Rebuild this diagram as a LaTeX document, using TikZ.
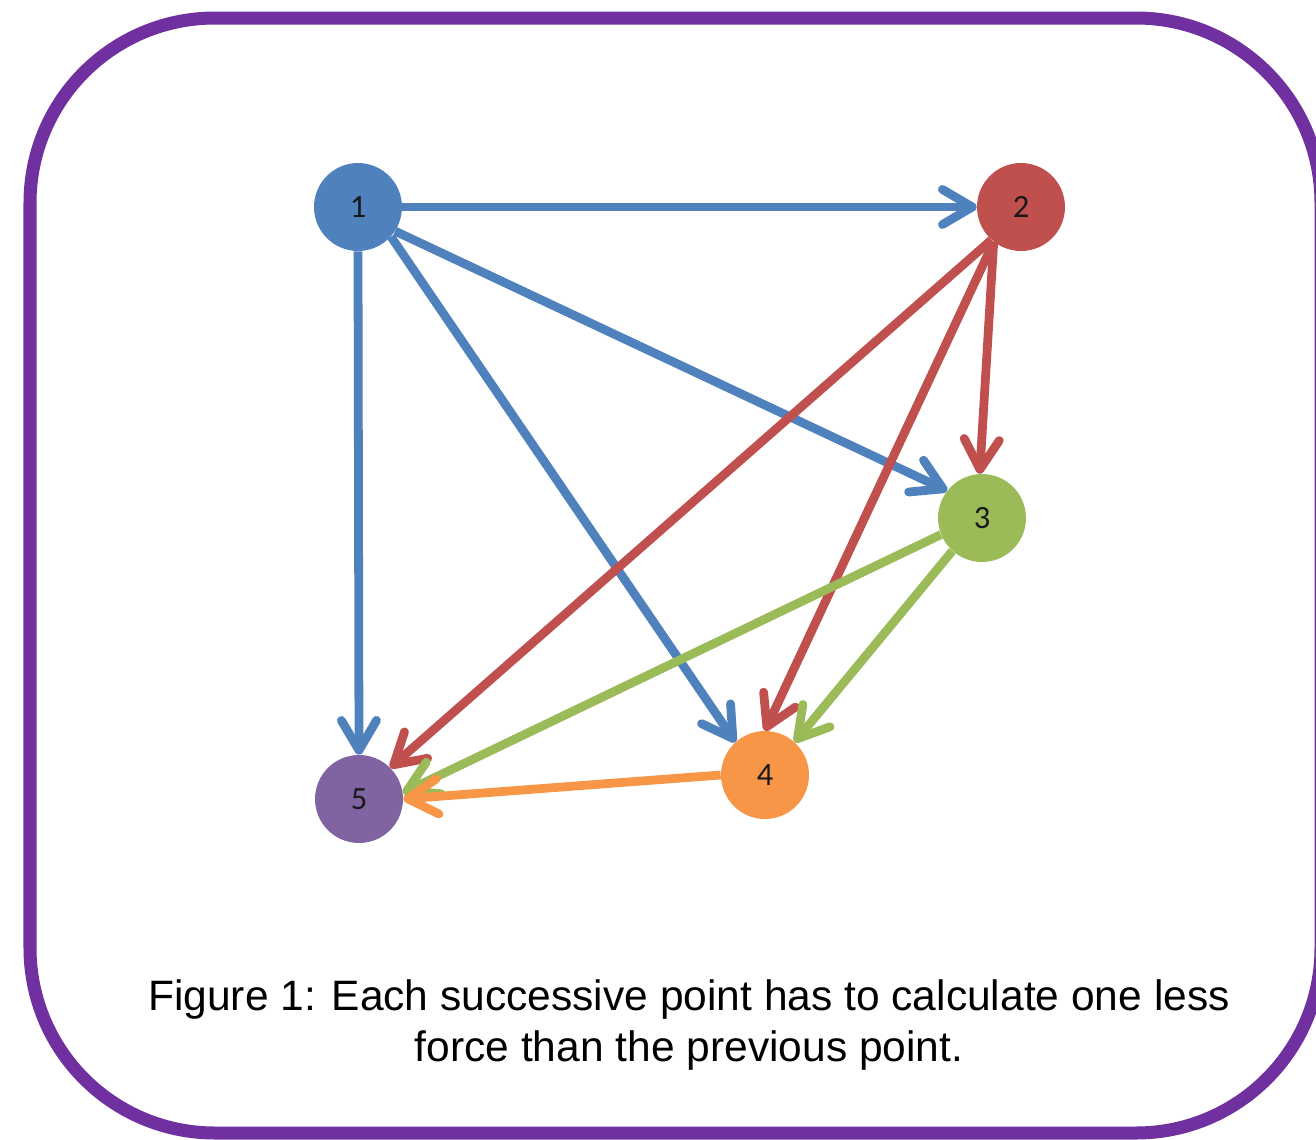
\documentclass[tikz,border=0pt]{standalone}
\usepackage{fontspec}
\setmainfont{Liberation Sans}
\newfontfamily\numfont{Carlito}
\usetikzlibrary{arrows.meta}
\definecolor{ptblue}{HTML}{4F81BD}
\definecolor{ptred}{HTML}{C0504D}
\definecolor{ptgreen}{HTML}{9BBB59}
\definecolor{ptorange}{HTML}{F79646}
\definecolor{ptpurple}{HTML}{8064A2}
\definecolor{framepurple}{HTML}{7030A0}

\begin{document}
\begin{tikzpicture}[x=0.02cm,y=-0.02cm,
	pt/.style={circle,minimum size=1.76cm,inner sep=0pt,font=\numfont\fontsize{18.5}{22}\selectfont,text=black!90},
	force/.style={line width=5pt,-{Straight Barb[length=17pt,width=20pt,round]}}]
	\useasboundingbox (0,0) rectangle (1316,1140);
	\clip (0,0) rectangle (1316,1140);
	\draw[framepurple,line width=7.4pt,rounded corners=3.7cm] (30,18) rectangle (1321,1133);
	
	\node[pt,fill=ptblue] (p1) at (358,207) {1};
	\node[pt,fill=ptred] (p2) at (1021,207) {2};
	\node[pt,fill=ptgreen] (p3) at (982,518) {3};
	\node[pt,fill=ptorange] (p4) at (765,775) {4};
	\node[pt,fill=ptpurple] (p5) at (359,799) {5};
	
	\draw[force,ptblue] (p1.east) -- (p2.west);
	\draw[force,ptblue] (p1.-33) -- (p3.142);
	\draw[force,ptblue] (p1.-42) -- (p4.132);
	\draw[force,ptblue] (p1.south) -- (p5.north);
	\draw[force,ptred] (p2.232) -- (p3.93);
	\draw[force,ptred] (p2.232) -- (p4.90);
	\draw[force,ptred] (p2.228) -- (p5.45);
	\draw[force,ptgreen] (p3.228) -- (p4.48);
	\draw[force,ptgreen] (p3.202) -- (p5.8);
	\draw[force,ptorange] (p4.west) -- (p5.east);
	
	\node[align=center,inner sep=0pt,font=\fontsize{24.2}{29}\selectfont] (cap) at (689,1025) {Figure 1: Each successive point has to calculate one less\\force than the previous point.};

\end{tikzpicture}
\end{document}
